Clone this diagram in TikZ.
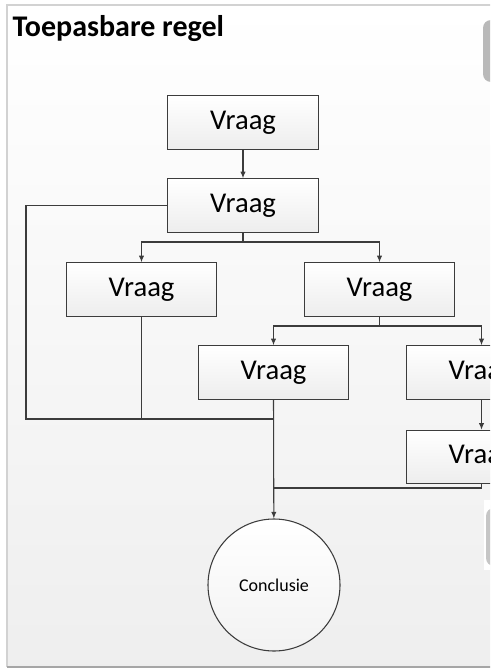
\documentclass[tikz,border=0pt]{standalone}
\usepackage{fontspec}
\setmainfont{Carlito}
\usetikzlibrary{arrows.meta}
\definecolor{lijn}{HTML}{3C3C3C}
\tikzset{
  vraag/.style={draw=lijn,line width=0.8pt,top color=white,bottom color=gray!14,
    minimum width=113pt,minimum height=40pt,inner sep=0,font=\fontsize{21.5}{24}\selectfont},
  concl/.style={circle,draw=lijn,line width=0.8pt,top color=white,bottom color=gray!10,
    minimum size=99pt,inner sep=0,font=\fontsize{13.5}{15}\selectfont},
  lijnen/.style={draw=lijn,line width=0.8pt},
  pijl/.style={lijnen,-{Latex[length=5pt,width=4pt]}}
}

\begin{document}
\begin{tikzpicture}[x=0.75pt,y=-0.75pt]
    \clip (0,0) rectangle (490,671);
    % achtergrond
    \shade[top color=white,bottom color=gray!13] (7,5) rectangle (500,667);
    \draw[gray!35,line width=1pt] (500,5) -- (7,5) -- (7,667);
    \draw[gray!70,line width=2pt] (7,667) -- (500,667);
    \fill[gray!55,rounded corners=6] (483,20) rectangle (500,82);
    \fill[white] (484,500) rectangle (495,570);
    \fill[gray!45,rounded corners=6] (486,508) rectangle (500,566);

    \node[anchor=west,font=\bfseries\fontsize{22.5}{26}\selectfont] (titel) at (8,29) {Toepasbare regel};

    \node[vraag] (v1) at (243,122.5) {Vraag};
    \node[vraag] (v2) at (243,205.5) {Vraag};
    \node[vraag] (v3) at (141.5,289.5) {Vraag};
    \node[vraag] (v4) at (379.5,289.5) {Vraag};
    \node[vraag] (v5) at (273.5,372.5) {Vraag};
    \node[vraag] (v6) at (481.5,372.5) {Vraag};
    \node[vraag] (v7) at (481.5,457) {Vraag};
    \node[concl] (conc) at (274,585) {Conclusie};

    \coordinate (s1) at (243,242);
    \coordinate (s2) at (379.5,326);
    \coordinate (lo) at (26,419);
    \coordinate (mid) at (273.5,419);
    \coordinate (jn) at (273.5,488);

    \draw[pijl] (v1) -- (v2);
    \draw[lijnen] (v2.south) -- (s1);
    \draw[pijl] (s1) -| (v3);
    \draw[pijl] (s1) -| (v4);
    \draw[lijnen] (v4.south) -- (s2);
    \draw[pijl] (s2) -| (v5);
    \draw[pijl] (s2) -| (v6);
    \draw[pijl] (v6) -- (v7);

    \draw[lijnen] (v2.west) -| (lo) -- (mid);
    \draw[lijnen] (v3.south) -- (v3.south |- mid);
    \draw[lijnen] (v7.south) |- (jn);
    \draw[pijl] (v5.south) -- (conc);
\end{tikzpicture}
\end{document}
